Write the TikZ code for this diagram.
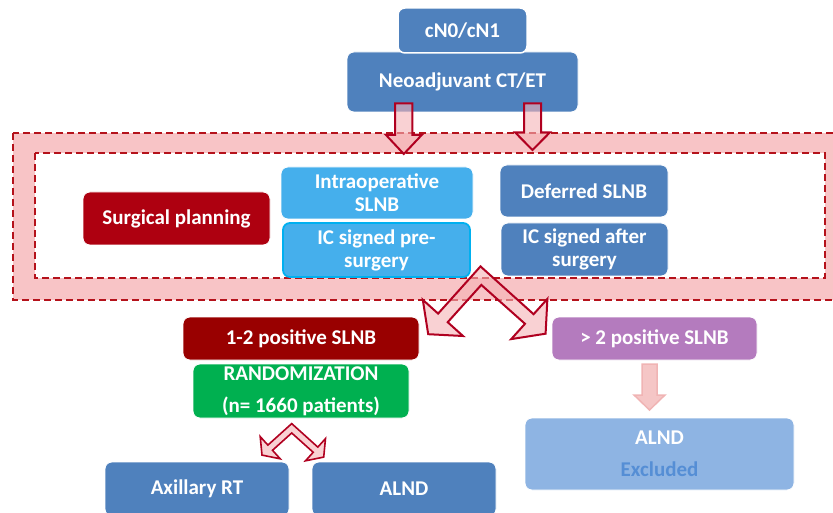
\documentclass[tikz,border=0pt]{standalone}
\usepackage{fontspec}
\setmainfont{Carlito}
\definecolor{bluebox}{HTML}{4F81BD}
\definecolor{lightblue}{HTML}{45AFEC}
\definecolor{cyanborder}{HTML}{00B0F0}
\definecolor{surgred}{HTML}{AE0010}
\definecolor{darkred}{HTML}{990000}
\definecolor{greenbox}{HTML}{00B050}
\definecolor{purplebox}{HTML}{B47BBE}
\definecolor{palebox}{HTML}{8EB4E3}
\definecolor{exclblue}{HTML}{558ED5}
\definecolor{bandpink}{HTML}{F8C4C6}
\definecolor{dashred}{HTML}{B5121B}
\definecolor{arrowred}{HTML}{B00020}
\definecolor{arrowfill}{HTML}{F5B2B5}
\definecolor{softpink}{HTML}{F4C0C0}
\definecolor{softpinkline}{HTML}{F0B4B4}
\begin{document}
\begin{tikzpicture}[x=1pt,y=-1pt,
  box/.style={rounded corners=7pt, text=white, font=\bfseries\fontsize{21}{23}\selectfont,
    align=center, inner sep=0pt, draw=white, line width=0.8pt},
  dashline/.style={draw=dashred, line width=2.2pt, dash pattern=on 7pt off 4pt},
  blockarrow/.style={draw=arrowred, line width=2pt, fill=arrowfill, fill opacity=0.6, line join=miter},
  softarrow/.style={draw=softpinkline, line width=1.5pt, fill=softpink, fill opacity=0.9}]
\useasboundingbox (0,0) rectangle (833,513);
% band
\fill[bandpink] (13,133) rectangle (850,300);
\draw[dashline] (13,133) rectangle (850,300);
\fill[white] (35,153) rectangle (825,278);
\draw[dashline] (35,153) rectangle (825,278);
% top boxes
\node[box, fill=bluebox, minimum width=231pt, minimum height=60pt] (neo) at (462.5,82) {Neoadjuvant CT/ET};
\node[box, fill=bluebox, minimum width=129pt, minimum height=45pt, line width=1.5pt] (cn) at (462.5,30.5) {cN0/cN1};
% inside band
\node[box, fill=surgred, minimum width=187pt, minimum height=53pt] (surg) at (176.5,218.5) {Surgical planning};
\node[box, fill=lightblue, minimum width=192pt, minimum height=52pt] (intra) at (377,193) {Intraoperative\\SLNB};
\node[box, fill=lightblue, draw=cyanborder, line width=1.8pt, minimum width=187pt, minimum height=54pt] (icpre) at (376.5,250) {IC signed pre-\\surgery};
\node[box, fill=bluebox, minimum width=168pt, minimum height=52pt] (def) at (584,191) {Deferred SLNB};
\node[box, fill=bluebox, minimum width=167pt, minimum height=53pt] (icafter) at (584.5,249.5) {IC signed after\\surgery};
% lower
\node[box, fill=darkred, minimum width=236pt, minimum height=43pt] (pos12) at (301,338.5) {1-2 positive SLNB};
\node[box, fill=greenbox, minimum width=216pt, minimum height=54pt] (rand) at (301,391) {RANDOMIZATION\\[9pt](n= 1660 patients)};
\node[box, fill=purplebox, minimum width=205pt, minimum height=43pt] (pos2) at (654.5,338.5) {> 2 positive SLNB};
\node[box, fill=palebox, minimum width=269pt, minimum height=72pt] (alndx) at (659.5,454) {ALND\\[9pt]{\color{exclblue}Excluded}};
\node[box, fill=bluebox, minimum width=184pt, minimum height=54pt] (axrt) at (197,489) {Axillary RT};
\node[box, fill=bluebox, minimum width=184pt, minimum height=54pt] (alnd) at (404,489) {ALND};
% down arrows from neoadjuvant
\draw[blockarrow] (395,103.3) -- (412.3,103.3) -- (412.3,135) -- (421.7,135) -- (403.8,154) -- (386,135) -- (395,135) -- cycle;
\draw[blockarrow] (524,103.3) -- (541,103.3) -- (541,132.3) -- (550,132.3) -- (532.5,150) -- (515,132.3) -- (524,132.3) -- cycle;
% big V arrow
\draw[blockarrow] (480.5,266.4) -- (438.1,313.6) -- (422.8,299.8) -- (428.2,334.2) -- (463.0,336.0) -- (447.7,322.2) -- (481.3,284.9) -- (525.0,323.8) -- (511.2,339.1) -- (545.6,333.7) -- (547.4,298.9) -- (533.6,314.2) -- cycle;
% small V arrow
\draw[blockarrow, line width=1.6pt] (291.7,423.6) -- (267.9,445.1) -- (260.2,436.6) -- (262.0,455.1) -- (280.2,458.8) -- (272.5,450.3) -- (291.7,433.0) -- (313.2,452.3) -- (305.5,460.8) -- (323.7,457.1) -- (325.5,438.6) -- (317.8,447.1) -- cycle;
% pink down arrow
\draw[softarrow] (642,364) -- (657,364) -- (657,395) -- (665,395) -- (649.5,410) -- (634,395) -- (642,395) -- cycle;
\end{tikzpicture}
\end{document}
